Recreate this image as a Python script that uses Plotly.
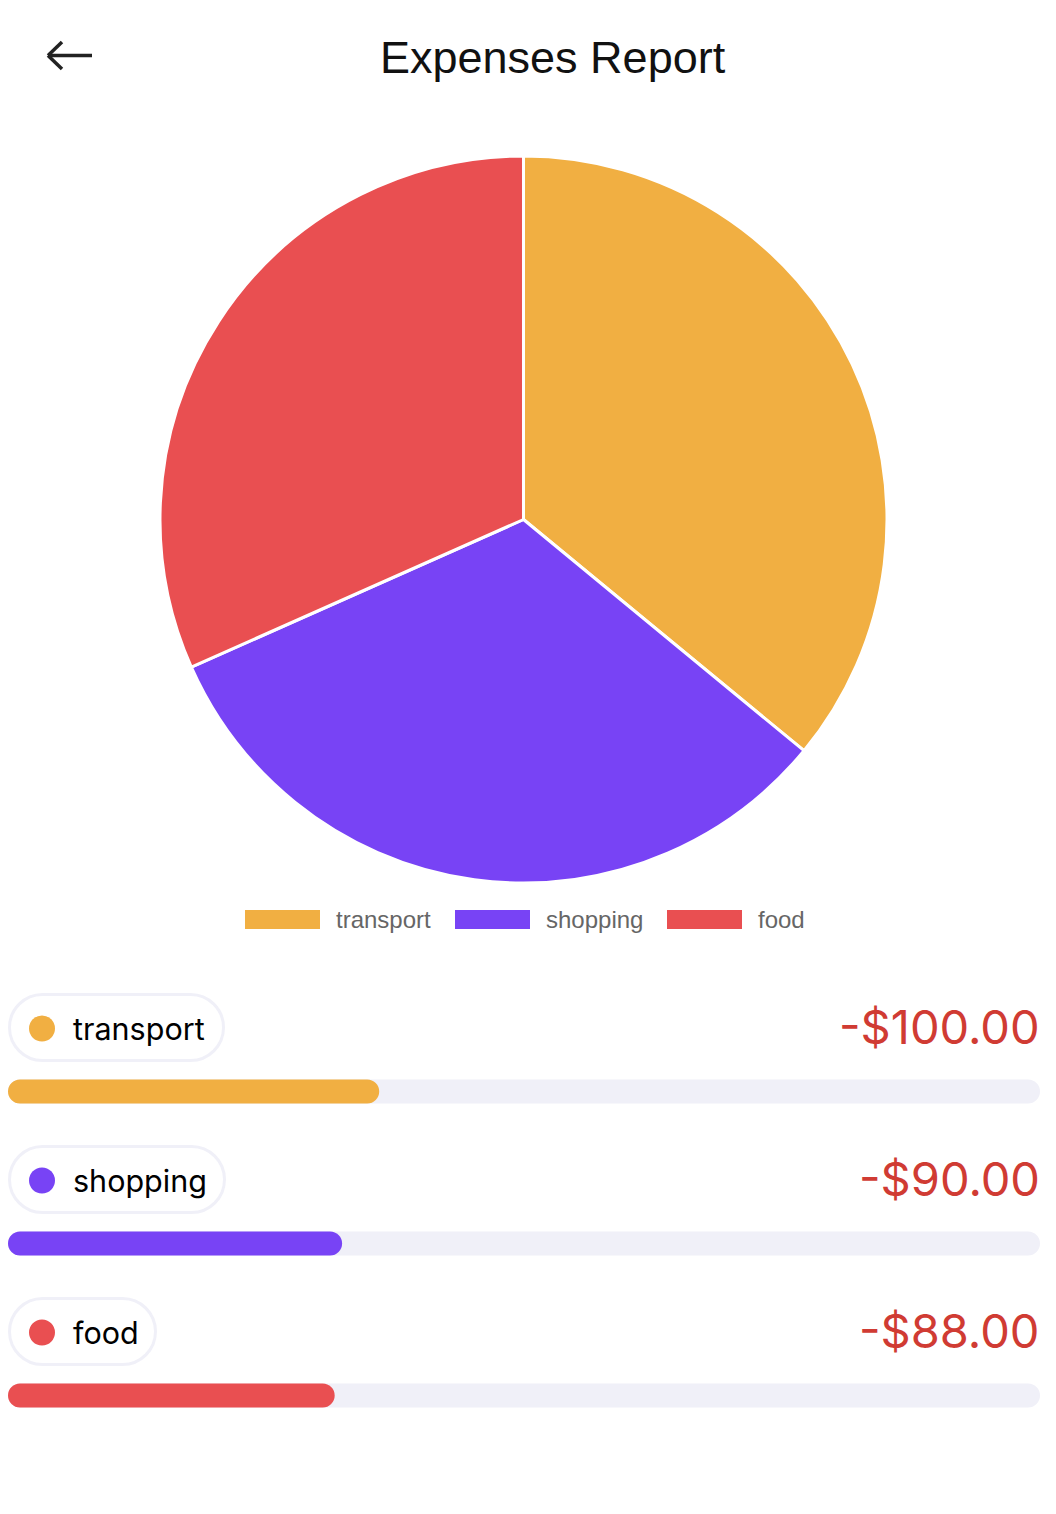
import plotly.graph_objects as go

# ---- data ----
categories = ["transport", "shopping", "food"]
amounts = [100.00, 90.00, 88.00]
title_text = "Expenses Report"

# ---- style ----
colors = ["#F1AF42", "#7843F5", "#E94F51"]
W, H = 1056, 1514
track_color = "#F0F0F8"
amount_color = "#D03B33"
pill_right_px = [225, 226, 157]   # pill widths follow label text widths
row_top_px = 993                  # top of first pill
row_step_px = 152

def px(x):
    return x / W

def py(y):
    return 1 - y / H

total = sum(amounts)

fig = go.Figure()

# pie
fig.add_trace(go.Pie(
    labels=categories, values=amounts, sort=False, direction="clockwise",
    rotation=0, textinfo="none", hoverinfo="label+value",
    marker=dict(colors=colors, line=dict(color="white", width=3)),
    domain=dict(x=[px(160), px(887)], y=[py(883), py(156)]),
    showlegend=False,
))

bar_w = 24 / row_step_px

def pill_bar(values, color, hover):
    fig.add_trace(go.Bar(
        y=categories, x=values, base=[0] * len(values),
        orientation="h",
        marker=dict(color=color, cornerradius=12, line=dict(width=0)),
        width=bar_w, hoverinfo=hover, showlegend=False,
    ))

# progress track, then fill
pill_bar([total] * len(categories), track_color, "skip")
pill_bar(amounts, colors, "x+y")

shapes = []
annotations = []

# title
annotations.append(dict(
    x=px(553), y=py(57), xref="paper", yref="paper", text=title_text,
    showarrow=False, xanchor="center", yanchor="middle",
    font=dict(family="Liberation Sans, Arial", size=45, color="#111111"),
))

# back arrow
arrow = dict(type="line", xref="paper", yref="paper",
             line=dict(color="#222222", width=3.5))
shapes.append({**arrow, "x0": px(48), "y0": py(55.5), "x1": px(92), "y1": py(55.5)})
shapes.append({**arrow, "x0": px(48), "y0": py(55.5), "x1": px(62), "y1": py(42)})
shapes.append({**arrow, "x0": px(48), "y0": py(55.5), "x1": px(62), "y1": py(69)})

# custom legend (wide boxes like the reference)
legend_box_x = [245, 455, 667]
for i, cat in enumerate(categories):
    x0 = legend_box_x[i]
    shapes.append(dict(type="rect", xref="paper", yref="paper",
                       x0=px(x0), x1=px(x0 + 75), y0=py(929), y1=py(910),
                       fillcolor=colors[i], line=dict(width=0)))
    annotations.append(dict(
        x=px(x0 + 89), y=py(919), xref="paper", yref="paper", text=cat,
        showarrow=False, xanchor="left", yanchor="middle",
        font=dict(family="Liberation Sans, Arial", size=24, color="#666666"),
    ))

def rounded_rect_path(x0, y0, x1, y1, r):
    k = 0.5523 * r
    pts = [
        ("M", (x0 + r, y0)),
        ("L", (x1 - r, y0)),
        ("C", (x1 - r + k, y0), (x1, y0 + r - k), (x1, y0 + r)),
        ("L", (x1, y1 - r)),
        ("C", (x1, y1 - r + k), (x1 - r + k, y1), (x1 - r, y1)),
        ("L", (x0 + r, y1)),
        ("C", (x0 + r - k, y1), (x0, y1 - r + k), (x0, y1 - r)),
        ("L", (x0, y0 + r)),
        ("C", (x0, y0 + r - k), (x0 + r - k, y0), (x0 + r, y0)),
    ]
    s = ""
    for cmd, *ps in pts:
        s += cmd + " " + " ".join(f"{px(a):.5f},{py(b):.5f}" for a, b in ps) + " "
    return s + "Z"

for i, cat in enumerate(categories):
    top = row_top_px + i * row_step_px
    bot = top + 69
    cy = (top + bot) / 2
    shapes.append(dict(type="path", xref="paper", yref="paper",
                       path=rounded_rect_path(9.5, top + 1.5, pill_right_px[i] - 1.5, bot - 1.5, 33),
                       fillcolor="white", line=dict(color=track_color, width=3)))
    shapes.append(dict(type="circle", xref="paper", yref="paper",
                       x0=px(29), x1=px(55), y0=py(cy + 14), y1=py(cy - 12),
                       fillcolor=colors[i], line=dict(width=0)))
    annotations.append(dict(
        x=px(71), y=py(cy + 1), xref="paper", yref="paper", text=cat,
        showarrow=False, xanchor="left", yanchor="middle",
        font=dict(family="Inter", size=30.5, color="#000000"),
    ))
    annotations.append(dict(
        x=px(1042), y=py(cy - 1), xref="paper", yref="paper",
        text=f"-${amounts[i]:.2f}",
        showarrow=False, xanchor="right", yanchor="middle",
        font=dict(family="Inter", size=47, color=amount_color),
    ))

bar_y_top = 1091.5 - row_step_px / 2
bar_y_bot = bar_y_top + row_step_px * len(categories)

fig.update_layout(
    width=W, height=H, margin=dict(l=0, r=0, t=0, b=0),
    paper_bgcolor="white", plot_bgcolor="rgba(0,0,0,0)",
    barmode="overlay",
    xaxis=dict(domain=[px(8), px(1040)], range=[0, total], visible=False, fixedrange=True),
    yaxis=dict(domain=[py(bar_y_bot), py(bar_y_top)], type="category",
               categoryorder="array", categoryarray=categories,
               range=[len(categories) - 0.5, -0.5], visible=False, fixedrange=True),
    shapes=shapes, annotations=annotations,
)

fig.write_html("out.html")
